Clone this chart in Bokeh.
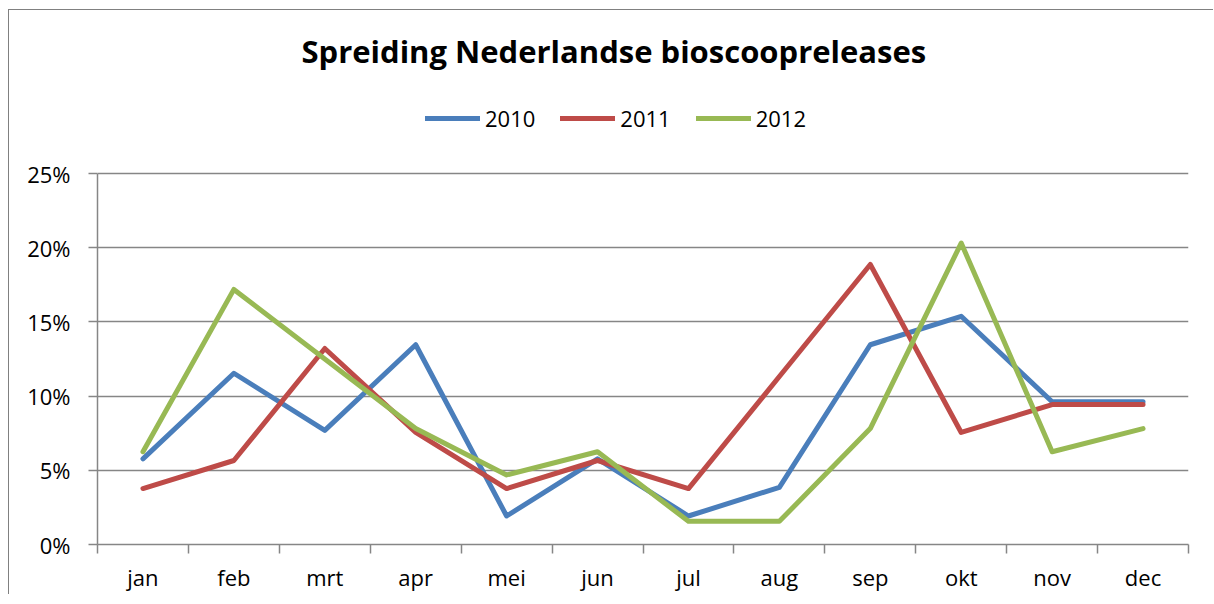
from bokeh.plotting import figure
from bokeh.models import Legend, LegendItem, FixedTicker, NumeralTickFormatter, Range1d, ColumnDataSource
from bokeh.embed import file_html
from bokeh.resources import INLINE

months = ["jan", "feb", "mrt", "apr", "mei", "jun", "jul", "aug", "sep", "okt", "nov", "dec"]
share_2010 = [0.0577, 0.1154, 0.0769, 0.1346, 0.0192, 0.0577, 0.0192, 0.0385, 0.1346, 0.1538, 0.0962, 0.0962]
share_2011 = [0.0377, 0.0566, 0.1321, 0.0755, 0.0377, 0.0566, 0.0377, 0.1132, 0.1887, 0.0755, 0.0943, 0.0943]
share_2012 = [0.0625, 0.1719, 0.1250, 0.0781, 0.0469, 0.0625, 0.0156, 0.0156, 0.0781, 0.2031, 0.0625, 0.0781]
series_names = ["2010", "2011", "2012"]
y_ticks = [0, 0.05, 0.10, 0.15, 0.20, 0.25]

FONT = "Open Sans"
GRID = "#868686"

# The value axis 0..25% spans 371 px (y=544 .. 173); the frame is extended
# upward to y=86 so the legend (clipped to the frame) can sit above the plot area.
Y_TOP = 0.25
y_max = Y_TOP * (544 - 86) / (544 - 173)

centers = [i + 0.5 for i in range(len(months))]
edges = list(range(len(months) + 1))

p = figure(width=1205, height=585, output_backend="svg", toolbar_location=None,
           x_range=Range1d(0, len(months)), y_range=Range1d(0, y_max),
           min_border_left=88, min_border_right=26, min_border_top=76, min_border_bottom=51,
           title="Spreiding  Nederlandse bioscoopreleases")
p.styles = {"margin-left": "9px", "margin-top": "10px",
            "box-shadow": "-1px -1px 0 0 #808080"}
p.outline_line_color = None
p.background_fill_color = "white"
p.border_fill_color = "white"

p.title.text_font = FONT
p.title.text_font_style = "bold"
p.title.text_font_size = "31px"
p.title.align = "left"
p.title.offset = 204
p.title.text_color = "black"
p.title.standoff = 29

# x axis
xa = p.xaxis[0]
xa.ticker = FixedTicker(ticks=centers, minor_ticks=edges)
xa.major_label_overrides = {c: m for c, m in zip(centers, months)}
xa.major_tick_line_color = None
xa.major_tick_out = 0
xa.major_tick_in = 0
xa.minor_tick_out = 9
xa.minor_tick_in = 0
xa.minor_tick_line_color = GRID
xa.minor_tick_line_width = 1.5
xa.axis_line_color = GRID
xa.axis_line_width = 1.5
xa.major_label_text_font = FONT
xa.major_label_text_font_size = "22px"
xa.major_label_text_color = "black"
xa.major_label_standoff = 8

# y axis
ya = p.yaxis[0]
ya.ticker = FixedTicker(ticks=y_ticks, minor_ticks=[])
ya.bounds = (0, Y_TOP)
ya.formatter = NumeralTickFormatter(format="0%")
ya.major_tick_out = 9
ya.major_tick_in = 0
ya.major_tick_line_color = GRID
ya.major_tick_line_width = 1.5
ya.axis_line_color = GRID
ya.axis_line_width = 1.5
ya.major_label_text_font = FONT
ya.major_label_text_font_size = "22px"
ya.major_label_text_color = "black"
ya.major_label_standoff = 18

p.xgrid.visible = False
p.ygrid.ticker = FixedTicker(ticks=y_ticks)
p.ygrid.grid_line_color = GRID
p.ygrid.grid_line_width = 1.5

src = ColumnDataSource(dict(x=centers, s2010=share_2010, s2011=share_2011, s2012=share_2012))
colors = ["#4a7ebb", "#be4b48", "#98b954"]
renderers = []
for name, col, color in zip(series_names, ["s2010", "s2011", "s2012"], colors):
    r = p.line("x", col, source=src, line_color=color, line_width=5,
               line_join="round", line_cap="round")
    renderers.append(r)

legend = Legend(items=[LegendItem(label=n, renderers=[r]) for n, r in zip(series_names, renderers)],
                orientation="horizontal", location=(328, 411),
                label_text_font=FONT, label_text_font_size="22px", label_text_color="black",
                glyph_width=55, glyph_height=20, label_standoff=5, spacing=25,
                padding=0, margin=0, border_line_color=None, background_fill_alpha=0)
p.add_layout(legend, "center")

open("out.html", "w").write(file_html(p, INLINE))
